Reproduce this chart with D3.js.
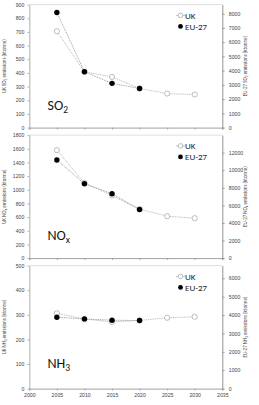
<!DOCTYPE html>
<html>
<head>
<meta charset="utf-8">
<script src="https://cdn.jsdelivr.net/npm/d3@7"></script>
<style>
  body { margin: 0; background: #fff; }
  svg { display: block; }
  .tick text { fill: #444; }
</style>
</head>
<body>
<div id="chart"></div>
<script>
// data
const years = [2005, 2010, 2015, 2020, 2025, 2030];
const euYears = [2005, 2010, 2015, 2020];
const xTicks = [2000, 2005, 2010, 2015, 2020, 2025, 2030, 2035];

const ukSO2 = [705, 408, 371, 287, 249, 242];
const euSO2 = [8090, 3920, 3110, 2750];
const ukNOx = [1580, 1100, 915, 715, 613, 584];
const euNOx = [11170, 8460, 7330, 5530];
const ukNH3 = [306, 283, 271, 277, 288, 292];
const euNH3 = [3880, 3790, 3720, 3700];

const leftTicksSO2 = d3.range(0, 901, 100);
const rightTicksSO2 = d3.range(0, 8001, 1000);
const leftTicksNOx = d3.range(0, 1801, 200);
const rightTicksNOx = d3.range(0, 12001, 2000);
const leftTicksNH3 = d3.range(0, 501, 100);
const rightTicksNH3 = d3.range(0, 6001, 1000);

const panels = [
  {name: 'SO', sub: '2', uk: ukSO2, eu: euSO2, lt: leftTicksSO2, rt: rightTicksSO2, lmax: 900, rmax: 8640},
  {name: 'NO', sub: 'x', uk: ukNOx, eu: euNOx, lt: leftTicksNOx, rt: rightTicksNOx, lmax: 1800, rmax: 14000},
  {name: 'NH', sub: '3', uk: ukNH3, eu: euNH3, lt: leftTicksNH3, rt: rightTicksNH3, lmax: 500, rmax: 6690}
];

const W = 259, H = 405;
const left = 29.3, right = 222.3;
const panelTop = 4.6, panelStep = 130.5, panelH = 123;
const labelOffset = [17.5, 18.5, 20.5];
const fmt = d3.format('d');

const svg = d3.select('#chart').append('svg')
  .attr('width', W).attr('height', H)
  .style('font-family', "Carlito, Calibri, 'Liberation Sans', Arial, sans-serif");

const x = d3.scaleLinear().domain([2000, 2035]).range([left, right]);

panels.forEach((p, i) => {
  const top = panelTop + i * panelStep;
  const bottom = top + panelH;
  const yL = d3.scaleLinear().domain([0, p.lmax]).range([bottom, top]);
  const yR = d3.scaleLinear().domain([0, p.rmax]).range([bottom, top]);
  const g = svg.append('g');

  // frame top
  g.append('line')
    .attr('x1', left).attr('x2', right)
    .attr('y1', top).attr('y2', top)
    .attr('stroke', '#d4d4d4').attr('stroke-width', 0.8);

  // x axis
  const xa = g.append('g')
    .attr('transform', 'translate(0,' + bottom + ')')
    .call(d3.axisBottom(x).tickValues(xTicks).tickSize(2).tickPadding(2.5)
      .tickFormat(i === 2 ? fmt : ''));
  xa.select('.domain').attr('stroke', '#8a8a8a').attr('stroke-width', 0.8);
  xa.selectAll('.tick line').attr('stroke', '#8a8a8a').attr('stroke-width', 0.6);
  xa.selectAll('text').style('font-size', '5.2px');

  // left axis
  const la = g.append('g')
    .attr('transform', 'translate(' + left + ',0)')
    .call(d3.axisLeft(yL).tickValues(p.lt).tickFormat(fmt).tickSize(2).tickPadding(3).tickSizeOuter(0));
  la.select('.domain').attr('stroke', '#9a9a9a').attr('stroke-width', 0.8);
  la.selectAll('.tick line').attr('stroke', '#8a8a8a').attr('stroke-width', 0.6);
  la.selectAll('text').style('font-size', '5.2px');

  // right axis
  const ra = g.append('g')
    .attr('transform', 'translate(' + right + ',0)')
    .call(d3.axisRight(yR).tickValues(p.rt).tickFormat(fmt).tickSize(2.5).tickPadding(4).tickSizeOuter(0));
  ra.select('.domain').attr('stroke', '#777').attr('stroke-width', 0.8);
  ra.selectAll('.tick line').attr('stroke', '#777').attr('stroke-width', 0.6);
  ra.selectAll('text').style('font-size', '5.2px');

  // axis titles
  const mid = (top + bottom) / 2;
  const lt = g.append('text')
    .attr('transform', 'translate(5.5,' + mid + ') rotate(-90)')
    .attr('text-anchor', 'middle').attr('fill', '#444').style('font-size', '5px');
  lt.append('tspan').text('UK ' + p.name);
  lt.append('tspan').attr('dy', 1.2).style('font-size', '3.5px').text(p.sub);
  lt.append('tspan').attr('dy', -1.2).text(' emissions (ktonne)');

  const rtl = g.append('text')
    .attr('transform', 'translate(247,' + mid + ') rotate(-90)')
    .attr('text-anchor', 'middle').attr('fill', '#444').style('font-size', '5px');
  rtl.append('tspan').text('EU-27 ' + p.name);
  rtl.append('tspan').attr('dy', 1.2).style('font-size', '3.5px').text(p.sub);
  rtl.append('tspan').attr('dy', -1.2).text(' emissions (ktonne)');

  // panel label
  const pl = g.append('text')
    .attr('x', 47.5).attr('y', bottom - labelOffset[i])
    .attr('fill', '#111').style('font-size', '14px');
  pl.append('tspan').text(p.name);
  pl.append('tspan').attr('dy', 3).style('font-size', '9.5px').text(p.sub);

  // lines
  const ukPts = years.map((yr, k) => [x(yr), yL(p.uk[k])]);
  const euPts = euYears.map((yr, k) => [x(yr), yR(p.eu[k])]);
  g.append('path').attr('d', d3.line()(ukPts))
    .attr('fill', 'none').attr('stroke', '#a8a8a8').attr('stroke-width', 0.8)
    .attr('stroke-dasharray', '1,0.8');
  g.append('path').attr('d', d3.line()(euPts))
    .attr('fill', 'none').attr('stroke', '#8a8a8a').attr('stroke-width', 0.8)
    .attr('stroke-dasharray', '1,0.8');

  g.selectAll('.uk').data(ukPts).enter().append('circle')
    .attr('cx', d => d[0]).attr('cy', d => d[1]).attr('r', 2.6)
    .attr('fill', '#fff').attr('stroke', '#a0a0a0').attr('stroke-width', 0.7);
  g.selectAll('.eu').data(euPts).enter().append('circle')
    .attr('cx', d => d[0]).attr('cy', d => d[1]).attr('r', 2.7)
    .attr('fill', '#000');

  // legend
  const lx = 180.5;
  const l1 = top + 10.8, l2 = top + 21.8;
  g.append('line').attr('x1', lx - 4.5).attr('x2', lx + 4.5).attr('y1', l1).attr('y2', l1)
    .attr('stroke', '#a8a8a8').attr('stroke-width', 0.7);
  g.append('circle').attr('cx', lx).attr('cy', l1).attr('r', 2.3)
    .attr('fill', '#fff').attr('stroke', '#a0a0a0').attr('stroke-width', 0.7);
  g.append('text').attr('x', lx + 4.5).attr('y', l1 + 3.2).attr('fill', '#222')
    .style('font-size', '9px').text('UK');
  g.append('circle').attr('cx', lx).attr('cy', l2).attr('r', 2.4).attr('fill', '#000');
  g.append('text').attr('x', lx + 4.5).attr('y', l2 + 3.2).attr('fill', '#222')
    .style('font-size', '9px').text('EU-27');
});
</script>
</body>
</html>
